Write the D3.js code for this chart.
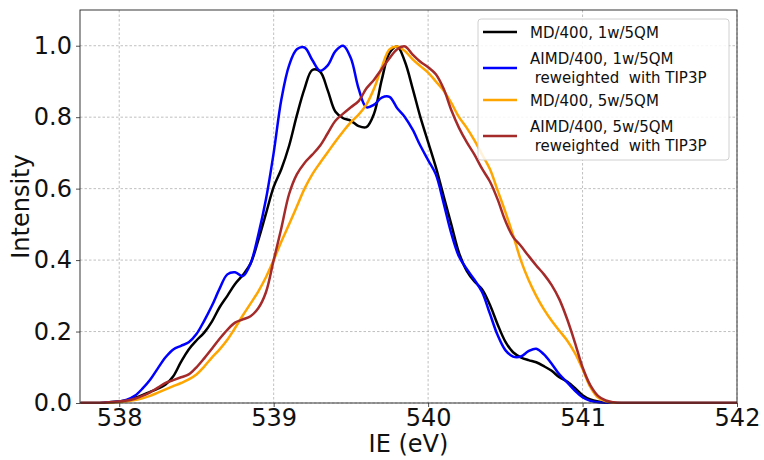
<!DOCTYPE html>
<html>
<head>
<meta charset="utf-8">
<title>IE spectra</title>
<script src="https://cdnjs.cloudflare.com/ajax/libs/d3/7.8.5/d3.min.js"></script>
<style>
  body { margin: 0; background: #fff; }
  text { font-family: "DejaVu Sans", sans-serif; }
</style>
</head>
<body>
<svg id="chart" width="764" height="460"></svg>

<script>
// ionization energy grid (eV)
var energy = [537.75, 537.9,
  538.00, 538.05, 538.10, 538.15, 538.20, 538.25, 538.30, 538.35, 538.40, 538.45,
  538.50, 538.55, 538.60, 538.65, 538.70, 538.75, 538.80, 538.85, 538.90, 538.95,
  539.00, 539.05, 539.10, 539.15, 539.20, 539.25, 539.30, 539.35, 539.40, 539.45,
  539.50, 539.55, 539.60, 539.65, 539.70, 539.75, 539.80, 539.85, 539.90, 539.95,
  540.00, 540.05, 540.10, 540.15, 540.20, 540.25, 540.30, 540.35, 540.40, 540.45,
  540.50, 540.55, 540.60, 540.65, 540.70, 540.75, 540.80, 540.85, 540.90, 540.95,
  541.00, 541.05, 541.10, 541.15, 541.20, 541.25, 541.30,
  541.4, 541.6, 542.0];

var md1w = [0, 0.001,
  0.004, 0.008, 0.014, 0.022, 0.031, 0.040, 0.052, 0.075, 0.115, 0.150,
  0.175, 0.197, 0.228, 0.268, 0.300, 0.333, 0.358, 0.390, 0.455, 0.530,
  0.605, 0.655, 0.720, 0.805, 0.880, 0.932, 0.928, 0.875, 0.815, 0.797,
  0.790, 0.775, 0.772, 0.810, 0.905, 0.980, 0.998, 0.955, 0.880, 0.800,
  0.730, 0.660, 0.580, 0.500, 0.420, 0.370, 0.340, 0.318, 0.275, 0.220,
  0.172, 0.142, 0.128, 0.120, 0.114, 0.103, 0.090, 0.072, 0.060, 0.042,
  0.022, 0.010, 0.004, 0.001, 0, 0, 0,
  0, 0, 0];

var aimd1w = [0, 0.001,
  0.004, 0.009, 0.020, 0.040, 0.065, 0.097, 0.128, 0.150, 0.160, 0.170,
  0.193, 0.230, 0.272, 0.320, 0.360, 0.366, 0.355, 0.390, 0.470, 0.570,
  0.700, 0.850, 0.945, 0.990, 0.995, 0.960, 0.930, 0.945, 0.985, 1.000,
  0.965, 0.880, 0.828, 0.835, 0.855, 0.857, 0.825, 0.800, 0.765, 0.720,
  0.680, 0.640, 0.560, 0.475, 0.410, 0.375, 0.345, 0.310, 0.250, 0.190,
  0.148, 0.130, 0.130, 0.145, 0.152, 0.136, 0.110, 0.080, 0.058, 0.035,
  0.016, 0.006, 0.002, 0.001, 0, 0, 0,
  0, 0, 0];

var md5w = [0, 0,
  0.003, 0.005, 0.008, 0.013, 0.020, 0.029, 0.038, 0.047, 0.056, 0.066,
  0.080, 0.102, 0.127, 0.150, 0.177, 0.210, 0.245, 0.278, 0.312, 0.352,
  0.400, 0.452, 0.500, 0.550, 0.600, 0.640, 0.672, 0.702, 0.732, 0.760,
  0.786, 0.807, 0.835, 0.880, 0.940, 0.990, 0.998, 0.985, 0.962, 0.943,
  0.925, 0.900, 0.875, 0.840, 0.800, 0.770, 0.735, 0.695, 0.655, 0.595,
  0.535, 0.470, 0.400, 0.345, 0.300, 0.262, 0.230, 0.202, 0.175, 0.140,
  0.095, 0.045, 0.015, 0.005, 0.001, 0, 0,
  0, 0, 0];

var aimd5w = [0, 0.001,
  0.004, 0.007, 0.012, 0.020, 0.030, 0.043, 0.056, 0.064, 0.072, 0.080,
  0.100, 0.125, 0.152, 0.180, 0.205, 0.225, 0.234, 0.243, 0.265, 0.310,
  0.400, 0.490, 0.585, 0.640, 0.672, 0.695, 0.720, 0.755, 0.790, 0.810,
  0.828, 0.845, 0.880, 0.905, 0.935, 0.965, 0.990, 0.998, 0.975, 0.955,
  0.940, 0.920, 0.880, 0.820, 0.770, 0.730, 0.695, 0.655, 0.620, 0.570,
  0.510, 0.465, 0.440, 0.412, 0.385, 0.360, 0.330, 0.290, 0.235, 0.170,
  0.100, 0.050, 0.020, 0.007, 0.002, 0, 0,
  0, 0, 0];

var seriesNames = ["MD/400, 1w/5QM",
  "AIMD/400, 1w/5QM\n reweighted  with TIP3P",
  "MD/400, 5w/5QM",
  "AIMD/400, 5w/5QM\n reweighted  with TIP3P"];
var seriesColors = ["#000000", "#0000ff", "#ffa500", "#a52a2a"];
var seriesValues = [md1w, aimd1w, md5w, aimd5w];

var xTicks = [538, 539, 540, 541, 542];
var yTicks = [0.0, 0.2, 0.4, 0.6, 0.8, 1.0];

var margin = {left: 80, top: 10, right: 27, bottom: 57};
var width = 764 - margin.left - margin.right;
var height = 460 - margin.top - margin.bottom;

var svg = d3.select("#chart");
var g = svg.append("g").attr("transform", "translate(" + margin.left + "," + margin.top + ")");

var x = d3.scaleLinear().domain([537.746, 542]).range([0, width]);
var y = d3.scaleLinear().domain([0, 1.1]).range([height, 0]);

// grid
g.append("g").selectAll("line").data(xTicks).enter().append("line")
  .attr("x1", function(d) { return x(d); }).attr("x2", function(d) { return x(d); })
  .attr("y1", 0).attr("y2", height)
  .attr("stroke", "#b0b0b0").attr("stroke-width", 0.8).attr("stroke-dasharray", "2.5,2");
g.append("g").selectAll("line").data(yTicks).enter().append("line")
  .attr("y1", function(d) { return y(d); }).attr("y2", function(d) { return y(d); })
  .attr("x1", 0).attr("x2", width)
  .attr("stroke", "#b0b0b0").attr("stroke-width", 0.8).attr("stroke-dasharray", "2.5,2");

// axes
var xAxis = g.append("g").attr("transform", "translate(0," + height + ")")
  .call(d3.axisBottom(x).tickValues(xTicks).tickFormat(d3.format("d")).tickSize(4).tickPadding(2));
var yAxis = g.append("g")
  .call(d3.axisLeft(y).tickValues(yTicks).tickFormat(d3.format(".1f")).tickSize(4).tickPadding(4));
[xAxis, yAxis].forEach(function(a) {
  a.select(".domain").remove();
  a.selectAll("line").attr("stroke", "#222").attr("stroke-width", 0.8);
  a.selectAll("text").attr("font-size", 24).attr("fill", "#111")
    .style("font-family", "DejaVu Sans, sans-serif");
});

// series
var line = d3.line()
  .x(function(d, i) { return x(energy[i]); })
  .y(function(d) { return y(d); })
  .curve(d3.curveCatmullRom.alpha(0.5));

g.append("defs").append("clipPath").attr("id", "clip")
  .append("rect").attr("width", width).attr("height", height + 2).attr("y", -1);

g.append("g").attr("clip-path", "url(#clip)")
  .selectAll("path").data(seriesValues).enter().append("path")
  .attr("d", line)
  .attr("fill", "none")
  .attr("stroke", function(d, i) { return seriesColors[i]; })
  .attr("stroke-width", 2.5)
  .attr("stroke-linejoin", "round");

// frame
g.append("rect").attr("width", width).attr("height", height)
  .attr("fill", "none").attr("stroke", "#222").attr("stroke-width", 0.9);

// axis labels
svg.append("text").attr("x", margin.left + width / 2).attr("y", 452)
  .attr("text-anchor", "middle").attr("font-size", 24).attr("fill", "#111").text("IE (eV)");
svg.append("text").attr("transform", "translate(29," + (margin.top + height / 2) + ") rotate(-90)")
  .attr("text-anchor", "middle").attr("font-size", 24).attr("fill", "#111").text("Intensity");

// legend
var legend = svg.append("g");
legend.append("rect").attr("x", 478).attr("y", 19).attr("width", 251).attr("height", 141)
  .attr("rx", 3).attr("fill", "#fff").attr("fill-opacity", 0.85)
  .attr("stroke", "#d0d0d0").attr("stroke-width", 1);

var handleY = [32, 68, 100, 136];
seriesNames.forEach(function(name, i) {
  legend.append("line").attr("x1", 483).attr("x2", 517)
    .attr("y1", handleY[i]).attr("y2", handleY[i])
    .attr("stroke", seriesColors[i]).attr("stroke-width", 2.5);
  var parts = name.split("\n");
  var t = legend.append("text").attr("font-size", 15).attr("fill", "#111")
    .style("white-space", "pre");
  var top = handleY[i] - (parts.length - 1) * 9.25;
  parts.forEach(function(p, j) {
    t.append("tspan").attr("x", 530).attr("y", top + j * 18.5 + 5.5).text(p);
  });
});
</script>
</body>
</html>
